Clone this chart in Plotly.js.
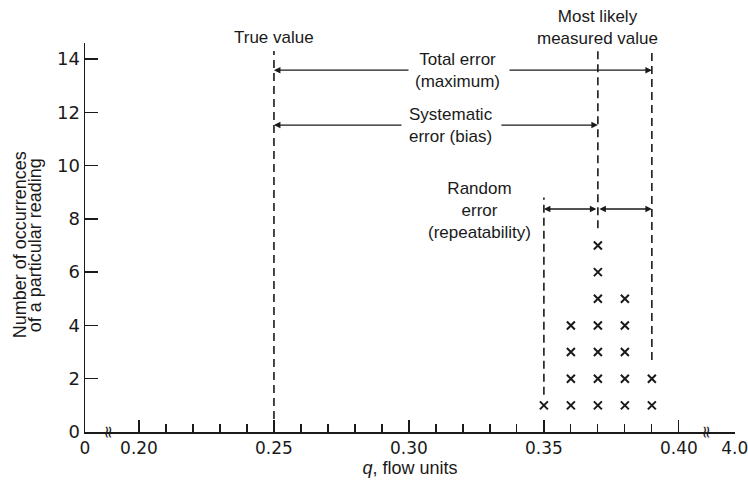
<!DOCTYPE html>
<html><head><meta charset="utf-8">
<script src="https://cdn.plot.ly/plotly-3.0.1.min.js"></script>
<style>html,body{margin:0;padding:0;background:#fff}</style>
</head><body><div id="chart" style="width:748px;height:488px"></div>
<script>
// readings (flow units) and the number of occurrences of each reading
const readings = [0.35, 0.36, 0.37, 0.38, 0.39];
const occurrences = [1, 4, 7, 5, 2];

// broken x axis: "0" and "4.0" sit at the two ends, beyond the breaks
const xTickVals = [0.18, 0.20, 0.25, 0.30, 0.35, 0.40, 0.4207];
const xTickText = ["0", "0.20", "0.25", "0.30", "0.35", "0.40", "4.0"];
const xMinorTicks = [0.21, 0.22, 0.23, 0.24, 0.26, 0.27, 0.28, 0.29, 0.31, 0.32, 0.33, 0.34, 0.36, 0.37, 0.38, 0.39];
const xBreaks = [0.1889, 0.4104];
const yTickVals = [0, 2, 4, 6, 8, 10, 12, 14];

// key values
const trueValue = 0.25;
const mostLikely = 0.37;
const randomLow = 0.35;
const randomHigh = 0.39;

// vertical dashed reference lines
const refX = [0.25, 0.35, 0.37, 0.39];
const refYBottom = [0, 1.4, 7.65, 2.7];
const refYTop = [14.3, 8.8, 14.3, 14.3];

// arrow levels and label gaps
const totalErrY = 13.58, sysErrY = 11.52, randErrY = 8.37;
const totalGap = [0.3004, 0.3367];
const sysGap = [0.2978, 0.3337];

const ink = '#1a1a1a';
const txtFont = {family: 'Liberation Sans, Arial, sans-serif', size: 17, color: ink};

// dot-plot points
const ptsX = [], ptsY = [];
readings.forEach((r, i) => { for (let k = 1; k <= occurrences[i]; k++) { ptsX.push(r); ptsY.push(k); } });

const traces = [{
  type: 'scatter', mode: 'markers', x: ptsX, y: ptsY,
  marker: {symbol: 'x-thin-open', size: 8, color: ink, line: {color: ink, width: 2}},
  cliponaxis: false, hoverinfo: 'skip', showlegend: false
}];

const shapes = refX.map((x, i) => ({
  type: 'line', xref: 'x', yref: 'y', x0: x, x1: x, y0: refYBottom[i], y1: refYTop[i],
  line: {color: ink, width: 1.6, dash: '8px,5px'}
}));

function arrow(x, y, ax, ay, both) {
  return {x: x, y: y, ax: ax, ay: ay, xref: 'x', yref: 'y', axref: 'x', ayref: 'y',
    text: '', showarrow: true, arrowhead: 2, arrowsize: 1, arrowwidth: 1.3, arrowcolor: ink,
    arrowside: both ? 'end+start' : 'end', startarrowhead: 2, startarrowsize: 1, standoff: 0, startstandoff: 0};
}
function label(x, y, text, extra) {
  return Object.assign({x: x, y: y, xref: 'x', yref: 'y', text: text, showarrow: false,
    font: txtFont, xanchor: 'center', yanchor: 'middle', align: 'center'}, extra || {});
}

const annotations = [
  label(trueValue, 1.0129, 'True value', {yref: 'paper'}),
  label(mostLikely, 1.0386, 'Most likely<br>measured value', {yref: 'paper'}),
  label(0.318, totalErrY, 'Total error<br>(maximum)'),
  label(0.3155, sysErrY, 'Systematic<br>error (bias)'),
  label(0.3263, randErrY - 0.05, 'Random<br>error<br>(repeatability)'),
  arrow(trueValue, totalErrY, totalGap[0], totalErrY),
  arrow(randomHigh, totalErrY, totalGap[1], totalErrY),
  arrow(trueValue, sysErrY, sysGap[0], sysErrY),
  arrow(mostLikely, sysErrY, sysGap[1], sysErrY),
  arrow(randomLow, randErrY, mostLikely, randErrY, true),
  arrow(randomHigh, randErrY, mostLikely, randErrY, true),
  // two-line y axis title
  {xref: 'paper', yref: 'paper', x: -0.1, y: 0.48, text: 'Number of occurrences', textangle: -90,
   showarrow: false, font: {family: 'Liberation Sans, Arial, sans-serif', size: 18, color: ink}, xanchor: 'center', yanchor: 'middle'},
  {xref: 'paper', yref: 'paper', x: -0.077, y: 0.48, text: 'of a particular reading', textangle: -90,
   showarrow: false, font: {family: 'Liberation Sans, Arial, sans-serif', size: 18, color: ink}, xanchor: 'center', yanchor: 'middle'}
].concat(xBreaks.map(b => ({x: b, y: 0, xref: 'x', yref: 'y', text: '≈', textangle: 90, showarrow: false,
  font: {family: 'DejaVu Sans', size: 17, color: ink}, xanchor: 'center', yanchor: 'middle'})));

const layout = {
  width: 748, height: 488,
  margin: {l: 85, r: 13, t: 43, b: 56},
  paper_bgcolor: '#fff', plot_bgcolor: '#fff',
  showlegend: false,
  xaxis: {
    range: [0.18, 0.4208], showgrid: false, zeroline: false,
    showline: true, linecolor: ink, linewidth: 1.5,
    ticks: 'inside', ticklen: 12, tickwidth: 1.3, tickcolor: ink,
    tickmode: 'array', tickvals: xTickVals, ticktext: xTickText,
    ticklabeloverflow: 'allow',
    tickfont: {family: 'DejaVu Sans', size: 17, color: ink},
    minor: {tickmode: 'array', tickvals: xMinorTicks, ticks: 'inside', ticklen: 8, tickwidth: 1.2, tickcolor: ink, showgrid: false},
    title: {text: '<i>q</i>, flow units', font: {family: 'Liberation Sans, Arial, sans-serif', size: 18, color: ink}, standoff: 4},
    fixedrange: true
  },
  yaxis: {
    range: [0, 14.6], showgrid: false, zeroline: false,
    showline: true, linecolor: ink, linewidth: 1.5,
    ticks: 'inside', ticklen: 13, tickwidth: 1.3, tickcolor: ink,
    tickmode: 'array', tickvals: yTickVals,
    tickfont: {family: 'DejaVu Sans', size: 18, color: ink},
    fixedrange: true
  },
  shapes: shapes,
  annotations: annotations
};

Plotly.newPlot('chart', traces, layout, {displayModeBar: false, staticPlot: true});
</script></body></html>
